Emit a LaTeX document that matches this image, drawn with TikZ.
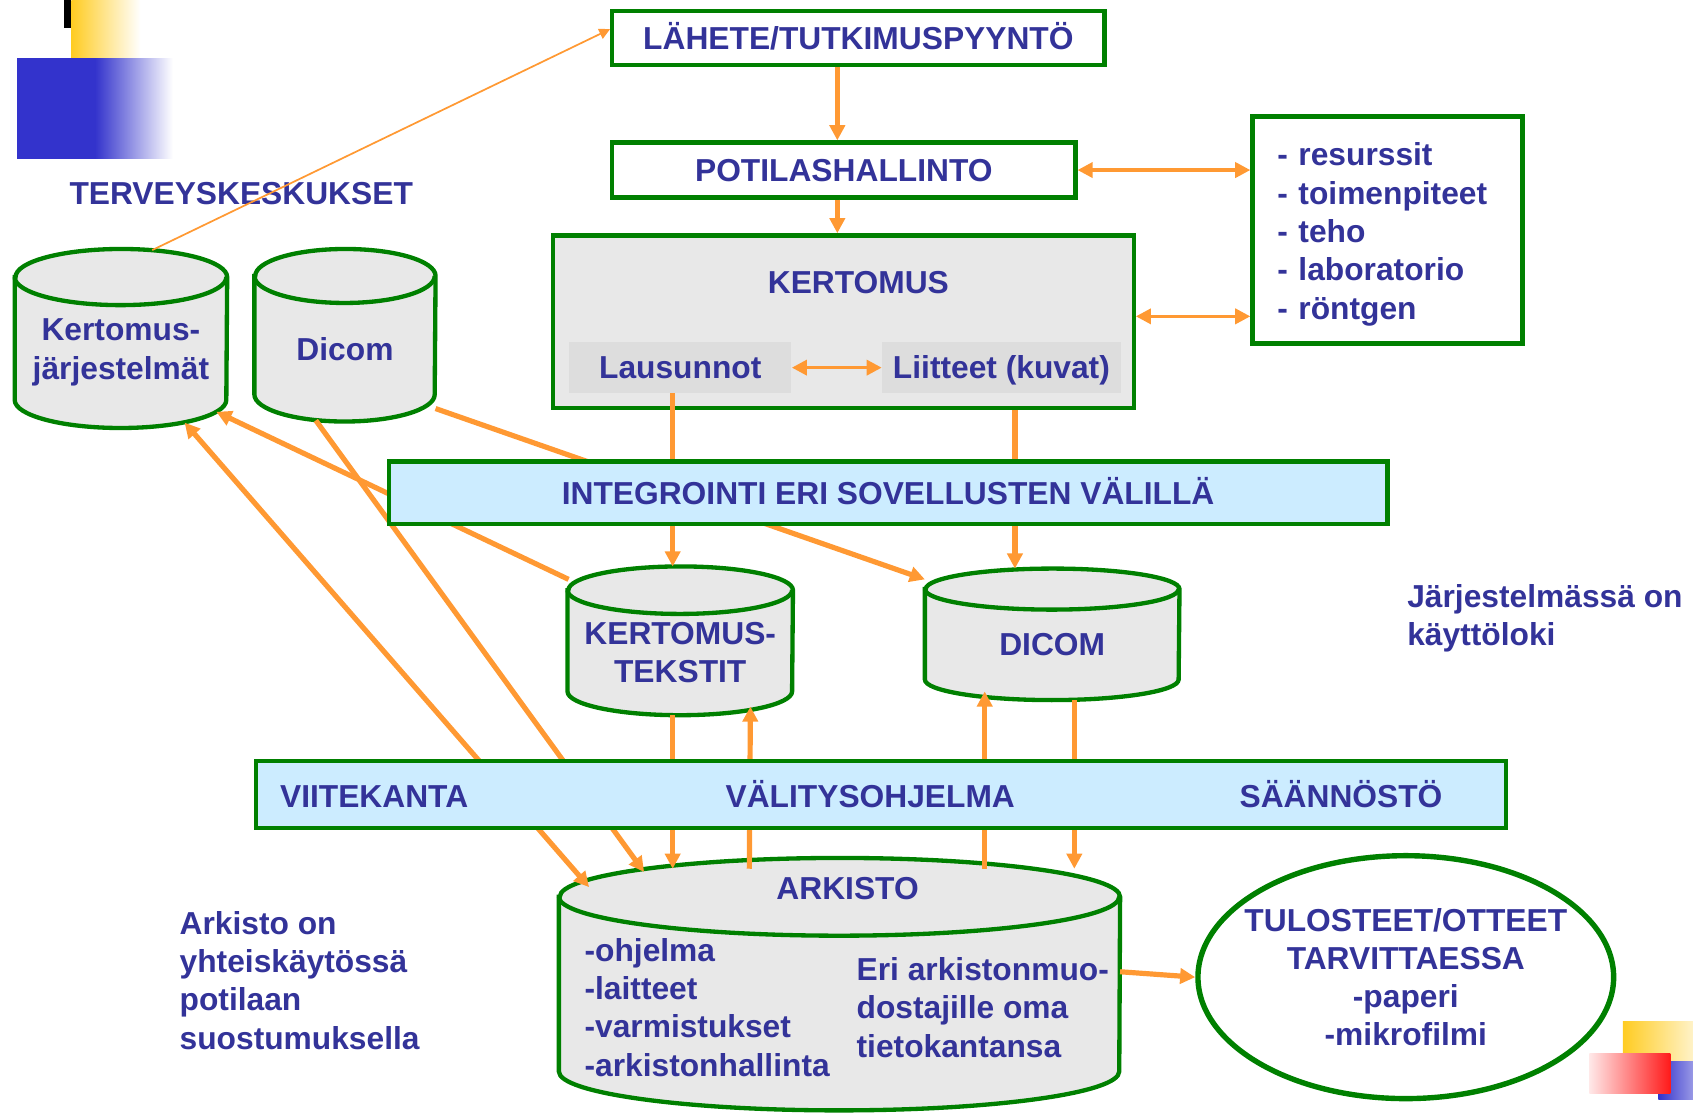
\documentclass[tikz,border=0pt]{standalone}
\usepackage{fontspec}
\setmainfont{Liberation Sans}
\usetikzlibrary{shapes.geometric, positioning, arrows.meta}
\definecolor{txtblue}{HTML}{333399}
\definecolor{boxgreen}{HTML}{008000}
\definecolor{arrowor}{HTML}{FF9933}
\definecolor{barblue}{HTML}{CCECFF}
\definecolor{cylgray}{HTML}{E8E8E8}
\definecolor{subgray}{HTML}{DDDDDD}
\definecolor{decoblue}{HTML}{3333CC}
\definecolor{decoyellow}{HTML}{FFCC22}
\definecolor{decored}{HTML}{FF1A1A}
\pgfdeclarelayer{background}
\pgfdeclarelayer{front}
\pgfsetlayers{background,main,front}

% database drum round a node: node name, x radius, y radius
\newcommand{\dbshape}[3]{%
  \filldraw[draw=boxgreen, line width=2pt, fill=cylgray]
    (#1.north west) -- ([yshift=#3]#1.south west)
    arc[start angle=180, end angle=360, x radius=#2, y radius=#3]
    -- (#1.north east)
    arc[start angle=0, end angle=180, x radius=#2, y radius=#3] -- cycle;
  \draw[boxgreen, line width=2pt] (#1.north west)
    arc[start angle=180, end angle=360, x radius=#2, y radius=#3];
}

\begin{document}
\begin{tikzpicture}[x=0.5pt, y=-0.5pt, >={Triangle[length=7pt,width=7pt]},
    font=\fontsize{14.7}{17.75}\selectfont\bfseries,
    every node/.style={text=txtblue},
    oneline/.style={text height=10.5pt, text depth=0pt},
    box/.style={draw=boxgreen, line width=2pt, fill=white, inner sep=0pt},
    bar/.style={box, fill=barblue, oneline},
    subbox/.style={fill=subgray, inner sep=0pt, oneline},
    dbase/.style={inner sep=0pt, align=center},
    txt/.style={inner sep=0pt, align=left},
    link/.style={draw=arrowor, line width=2.4pt},
    thinlink/.style={draw=arrowor, line width=0.8pt}]

  \useasboundingbox (0,0) rectangle (1568,1031);

  % corner decorations
  \fill[black] (59,0) rectangle (66,26);
  \shade[left color=decoyellow, right color=white] (66,0) rectangle (130,55);
  \fill[decoblue] (16,54) rectangle (88,147);
  \shade[left color=decoblue, right color=white] (88,54) rectangle (160,147);
  \shade[left color=decoyellow, right color=decoyellow!25] (1503,946) rectangle (1568,983);
  \shade[left color=decoblue, right color=decoblue!50] (1536,983) rectangle (1568,1018);
  \shade[left color=decored!10, right color=decored] (1472,976) rectangle (1547,1013);

  % boxes
  \node[box, oneline, minimum width=228pt, minimum height=25pt] (lahete) at (795,35) {LÄHETE/TUTKIMUSPYYNTÖ};
  \node[box, oneline, minimum width=214.5pt, minimum height=25.5pt] (potilas) at (781.5,157.5) {POTILASHALLINTO};
  \node[box, minimum width=125pt, minimum height=105pt, text width=102pt, align=left] (resurssit) at (1285,213)
    {\rule{0pt}{14.6pt}- resurssit\\- toimenpiteet\\- teho\\- laboratorio\\- röntgen};
  \node[box, fill=cylgray, minimum width=269pt, minimum height=80pt] (kertomus) at (781,298) {};
  \node[txt, oneline] (kerttitle) at (795,261) {KERTOMUS};
  \node[subbox, minimum width=103pt, minimum height=23.5pt] (lausunnot) at (630,340.5) {Lausunnot};
  \node[subbox, minimum width=110.5pt, minimum height=23.5pt] (liitteet) at (927.5,340.5) {Liitteet (kuvat)};

  \begin{pgfonlayer}{front}
    \node[bar, minimum width=462.5pt, minimum height=29pt] (integ) at (822.5,456.5) {INTEGROINTI ERI SOVELLUSTEN VÄLILLÄ};
    \node[bar, minimum width=579pt, minimum height=31pt] (valit) at (816,736) {};
    \node[txt, oneline, anchor=west] (viite) at (259,737) {VIITEKANTA};
    \node[txt, oneline] (valitys) at (806,737) {VÄLITYSOHJELMA};
    \node[txt, oneline] (saanto) at (1242,737) {SÄÄNNÖSTÖ};
  \end{pgfonlayer}

  % databases
  \node[dbase, minimum width=98pt, minimum height=69.5pt] (kj) at (112,326.5) {Kertomus-\\järjestelmät};
  \node[dbase, minimum width=83.5pt, minimum height=67pt] (dicom1) at (319.5,323) {Dicom};
  \node[dbase, minimum width=104pt, minimum height=57.5pt] (kt) at (630,604.5) {KERTOMUS-\\TEKSTIT};
  \node[dbase, minimum width=117.5pt, minimum height=51pt] (dicom2) at (974.5,597) {DICOM};
  \node[dbase, minimum width=259.5pt, minimum height=98.5pt] (ark) at (777.5,929.5) {};
  \begin{pgfonlayer}{background}
    \dbshape{kj}{49pt}{13pt}
    \dbshape{dicom1}{41.75pt}{12.5pt}
    \dbshape{kt}{52pt}{11pt}
    \dbshape{dicom2}{58.75pt}{9.5pt}
    \dbshape{ark}{129.75pt}{18pt}
  \end{pgfonlayer}
  \node[txt, oneline] (arktitle) at (785,823) {ARKISTO};
  \node[txt, anchor=west] (arklist) at (541,933) {-ohjelma\\-laitteet\\-varmistukset\\-arkistonhallinta};
  \node[txt, anchor=west] (arkmuot) at (793,933) {Eri arkistonmuo-\\dostajille oma\\tietokantansa};
  \node[ellipse, draw=boxgreen, line width=2.5pt, minimum width=192.5pt, minimum height=112.5pt,
        inner xsep=-12.5pt, inner ysep=0pt, align=center] (tuloste) at (1302,905)
    {TULOSTEET/OTTEET\\TARVITTAESSA\\-paperi\\-mikrofilmi};

  % notes
  \node[txt, oneline, anchor=west] (terv) at (64,179) {TERVEYSKESKUKSET};
  \node[txt, anchor=west] (loki) at (1303,572.5) {Järjestelmässä on\\käyttöloki};
  \node[txt, anchor=west] (arknote) at (166,908) {Arkisto on\\yhteiskäytössä\\potilaan\\suostumuksella};

  % links
  \draw[thinlink, ->, >={Triangle[length=5pt,width=5pt]}] ([shift={(29,-25)}]kj.north) -- ([yshift=4pt]lahete.west);
  \draw[link, ->] ([xshift=-3pt]potilas.north |- lahete.south) -- ([xshift=-3pt]potilas.north);
  \draw[link, ->] ([xshift=-3pt]potilas.south) -- ([xshift=-3pt]potilas.south |- kertomus.north);
  \draw[link, <->, line width=1.6pt] (potilas.east) -- (potilas.east -| resurssit.west);
  \draw[link, <->, line width=1.6pt] ([yshift=2.5pt]kertomus.east) -- ([yshift=2.5pt]kertomus.east -| resurssit.west);
  \draw[link, <->, line width=1.6pt] (lausunnot.east) -- (liitteet.west);
  \draw[link] ([xshift=-3.5pt]lausunnot.south) -- ([xshift=-3.5pt]lausunnot.south |- integ.north);
  \draw[link] ([xshift=6.25pt]liitteet.south |- kertomus.south) -- ([xshift=6.25pt]liitteet.south |- integ.north);
  \draw[link, ->] ([xshift=-3.5pt]lausunnot.south |- integ.south) -- ([shift={(-7,-22)}]kt.north);
  \draw[link, ->] ([xshift=6.25pt]liitteet.south |- integ.south) -- ([shift={(-34.5,-19)}]dicom2.north);
  \draw[link, ->] ([shift={(0,-12)}]dicom1.south east) -- ([shift={(0,-9)}]dicom2.north west);
  \draw[link, ->] ([shift={(1,-10)}]kt.north west) -- ([shift={(-10,-15)}]kj.south east);
  \draw[link, <->] ([shift={(28,-9)}]ark.north west) -- ([shift={(59,-5)}]kj.south);
  \draw[link, ->] ([shift={(-27,-1)}]dicom1.south) -- ([shift={(-181,-23)}]ark.north);
  \draw[link, ->] ([xshift=-3.5pt]kt.south) -- ([shift={(-154.5,-26)}]ark.north);
  \draw[link, ->] ([shift={(-83.5,-26)}]ark.north) -- ([shift={(65,-8)}]kt.south);
  \draw[link, ->] ([shift={(134.5,-26)}]ark.north) -- ([shift={(-62.5,-8)}]dicom2.south);
  \draw[link, ->] ([shift={(20.5,0)}]dicom2.south) -- ([shift={(217.5,-26)}]ark.north);
  \draw[link, ->] ([yshift=14.75pt]ark.east) -- (tuloste.west);
\end{tikzpicture}
\end{document}
